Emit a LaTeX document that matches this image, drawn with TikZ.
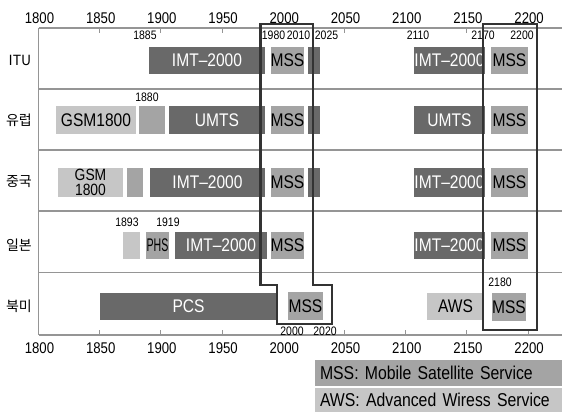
\documentclass[tikz,border=0pt]{standalone}
\usepackage{fontspec}
\usepackage{graphicx}
\setmainfont{Liberation Sans}[FakeStretch=0.85]
\newfontfamily\kr{Noto Sans CJK KR}
\definecolor{dk}{HTML}{696969}
\definecolor{md}{HTML}{A4A4A4}
\definecolor{lt}{HTML}{C6C6C6}
\definecolor{rulec}{HTML}{959595}
\definecolor{frm}{HTML}{333333}
\newcommand\mybox[7]{\node[#2,minimum width={(#4-#3)*1pt},minimum height={(#6-#5)*1pt}] (#1) at ({(#3+#4)/2},{(#5+#6)/2}) {#7};}
\tikzset{
  box/.style={inner sep=0pt, outer sep=0pt, draw=none, font=\fontsize{18.3}{18.3}\selectfont},
  dkbox/.style={box, fill=dk, text=white},
  mdbox/.style={box, fill=md, text=black},
  ltbox/.style={box, fill=lt, text=black},
  num/.style={inner sep=0pt, font=\fontsize{12.3}{12.3}\selectfont},
  axlab/.style={inner sep=0pt, font=\fontsize{15.5}{15.5}\selectfont},
  rowlab/.style={inner sep=0pt, font=\kr\fontsize{14}{14}\selectfont},
  gridline/.style={draw=rulec, line width=1.2pt},
  tick/.style={draw=rulec, line width=1pt},
  bracket/.style={draw=frm, line width=2.5pt, line join=miter},
  legbox/.style={inner sep=0pt, outer sep=0pt, draw=none, text width=237pt, align=left, minimum width=247pt, font=\fontsize{18.6}{18.6}\selectfont},
}
\begin{document}
\begin{tikzpicture}[x=1pt,y=-1pt]
\useasboundingbox (0,0) rectangle (562,412);
% axes and grid
\draw[gridline] (38.5,28) -- (562,28);
\draw[gridline] (38.5,335) -- (562,335);
\draw[gridline] (38.5,28) -- (38.5,335);
\foreach \yy in {89,150,211,272.5} \draw[gridline] (38.5,\yy) -- (562,\yy);
\foreach \k in {1,2,3,5,7} \draw[tick] ({38.5+61.2*\k},28) -- ({38.5+61.2*\k},33);
\foreach \k in {1,2,3,5,6,7,8} \draw[tick] ({38.5+61.2*\k},335) -- ({38.5+61.2*\k},330);
\foreach \k/\v in {0/1800,1/1850,2/1900,3/1950,4/2000,5/2050,6/2100,7/2150,8/2200}{
  \node[axlab] (top\v) at ({39.5+61.2*\k},18) {\v};
  \node[axlab] (bot\v) at ({39.5+61.2*\k},348) {\v};
}
% row labels
\node[rowlab] (lITU) at (20,60) {ITU};
\node[rowlab] (lEU) at (19,120) {유럽};
\node[rowlab] (lCN) at (19,182) {중국};
\node[rowlab] (lJP) at (19,245) {일본};
\node[rowlab] (lNA) at (19,306) {북미};
% ITU
\mybox{itu1}{dkbox}{149}{265}{47}{74}{IMT–2000}
\mybox{itu2}{mdbox}{271}{304}{47}{74}{MSS}
\mybox{itu3}{dkbox}{308}{320}{47}{74}{}
\mybox{itu4}{dkbox}{414}{485}{47}{74}{IMT–2000}
\mybox{itu5}{mdbox}{491}{528}{47}{74}{MSS}
% Europe
\mybox{eu1}{ltbox}{56}{136}{106}{134}{GSM1800}
\mybox{eu2}{mdbox}{139}{165}{106}{134}{}
\mybox{eu3}{dkbox}{169}{265}{106}{134}{UMTS}
\mybox{eu4}{mdbox}{271}{304}{106}{134}{MSS}
\mybox{eu5}{dkbox}{308}{320}{106}{134}{}
\mybox{eu6}{dkbox}{414}{485}{106}{134}{UMTS}
\mybox{eu7}{mdbox}{491}{528}{106}{134}{MSS}
% China
\node[ltbox, align=center, font=\fontsize{16.3}{14.6}\selectfont, minimum width=65pt, minimum height=29pt] (cn1) at (90.5,182.5) {GSM\\1800};
\mybox{cn2}{mdbox}{127}{143}{168}{197}{}
\mybox{cn3}{dkbox}{150}{265}{168}{197}{IMT–2000}
\mybox{cn4}{mdbox}{271}{304}{168}{197}{MSS}
\mybox{cn5}{dkbox}{308}{320}{168}{197}{}
\mybox{cn6}{dkbox}{414}{485}{168}{197}{IMT–2000}
\mybox{cn7}{mdbox}{491}{528}{168}{197}{MSS}
% Japan
\mybox{jp1}{ltbox}{123}{140}{232}{259}{}
\mybox{jp2}{mdbox}{146}{169}{232}{259}{\scalebox{0.68}[1]{PHS}}
\mybox{jp3}{dkbox}{175}{267}{232}{259}{IMT–2000}
\mybox{jp4}{mdbox}{271}{304}{232}{259}{MSS}
\mybox{jp5}{dkbox}{414}{485}{232}{259}{IMT–2000}
\mybox{jp6}{mdbox}{491}{528}{232}{259}{MSS}
% North America
\mybox{na1}{dkbox}{100}{277}{293}{320}{PCS}
\mybox{na2}{mdbox}{288}{323}{292}{320}{MSS}
\mybox{na3}{ltbox}{427}{484}{293}{320}{AWS}
\mybox{na4}{mdbox}{493}{525}{293}{321}{MSS}
% small numbers
\node[num] (n1885) at (145,35) {1885};
\node[num] (n1980) at (273.5,35) {1980};
\node[num] (n2010) at (298.5,35) {2010};
\node[num] (n2025) at (326.5,35) {2025};
\node[num] (n2110) at (418,35) {2110};
\node[num] (n2170) at (483,35) {2170};
\node[num] (n2200) at (522,35) {2200};
\node[num] (n1880) at (147,97) {1880};
\node[num] (n1893) at (127,222) {1893};
\node[num] (n1919) at (168,222) {1919};
\node[num] (n2180) at (500,282) {2180};
\node[num] (n2000) at (292,331) {2000};
\node[num] (n2020) at (325,331) {2020};
% brackets
\draw[bracket] (260.5,24) -- (313,24) -- (313,285) -- (332,285) -- (332,324) -- (277,324) -- (277,285) -- (260.5,285) -- cycle;
\draw[bracket] (483,24) rectangle (537,330);
% legend
\node[legbox, fill=md, minimum height=26pt] (legmss) at (438.5,373) {MSS: Mobile Satellite Service};
\node[legbox, fill=lt, minimum height=24pt] (legaws) at (438.5,400) {AWS: Advanced Wiress Service};
\end{tikzpicture}
\end{document}
